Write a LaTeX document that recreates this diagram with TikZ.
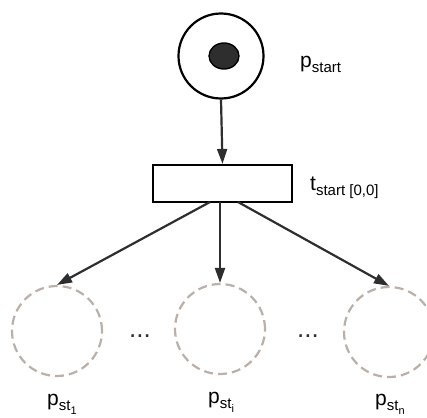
\documentclass[tikz,border=0pt]{standalone}
\usepackage{fontspec}
\setmainfont{Liberation Sans}
\usetikzlibrary{arrows.meta,shapes.geometric}
\definecolor{arcgray}{HTML}{2E2E2E}
\definecolor{dashgray}{HTML}{BAB0A9}
\newcommand{\mainsz}{\fontsize{21}{23}\selectfont}
\newcommand{\lowtxt}[1]{\raisebox{-5pt}{\fontsize{15}{15}\selectfont #1}}
\newcommand{\lowertxt}[1]{\raisebox{-4pt}{\fontsize{11}{11}\selectfont #1}}
\begin{document}
\begin{tikzpicture}[x=1pt,y=-1pt,
  place/.style={circle,draw=black,line width=2.2pt,minimum size=85pt,inner sep=0pt},
  token/.style={ellipse,draw=black,fill=arcgray,line width=1.4pt,minimum width=30pt,minimum height=26pt,inner sep=0pt},
  trans/.style={rectangle,draw=black,line width=2.2pt,minimum width=139pt,minimum height=37pt,inner sep=0pt},
  ghost/.style={circle,draw=dashgray,line width=2.2pt,dash pattern=on 9pt off 5pt,minimum size=90pt,inner sep=0pt},
  arc/.style={draw=arcgray,line width=2.2pt,-{Triangle[length=15pt,width=10pt]}},
  lbl/.style={inner sep=0pt,anchor=base west,font=\mainsz},
  dots/.style={inner sep=0pt,font=\fontsize{26}{26}\selectfont,text=arcgray}]
\useasboundingbox (0,0) rectangle (427,417);
% input place with its token
\node[place] (pstart) at (221,56) {};
\node[token] (tok) at (224,56) {};
\node[lbl] (lstart) at (300,68) {p\lowtxt{start}};
% start transition
\node[trans] (tstart) at (222.5,183.5) {};
\node[lbl] (ltstart) at (310,190) {t\lowtxt{start [0,0]}};
\draw[arc] (pstart.south) -- (tstart.north);
% output places
\node[ghost] (p1) at (57,331) {};
\node[ghost] (pi) at (220,329) {};
\node[ghost] (pn) at (389,332) {};
\coordinate (o1) at (210,202);
\coordinate (oi) at (220,202);
\coordinate (on) at (238,202);
\draw[arc] (o1) -- (p1.north);
\draw[arc] (oi) -- (pi.north);
\draw[arc] (on) -- (pn.north);
% ellipses between places
\node[dots] (d1) at (140,336) {...};
\node[dots] (d2) at (308,336) {...};
% place labels
\node[lbl] (l1) at (47,405) {p\lowtxt{st\lowertxt{1}}};
\node[lbl] (li) at (208,403) {p\lowtxt{st\lowertxt{i}}};
\node[lbl] (ln) at (375,405) {p\lowtxt{st\lowertxt{n}}};
\end{tikzpicture}
\end{document}
